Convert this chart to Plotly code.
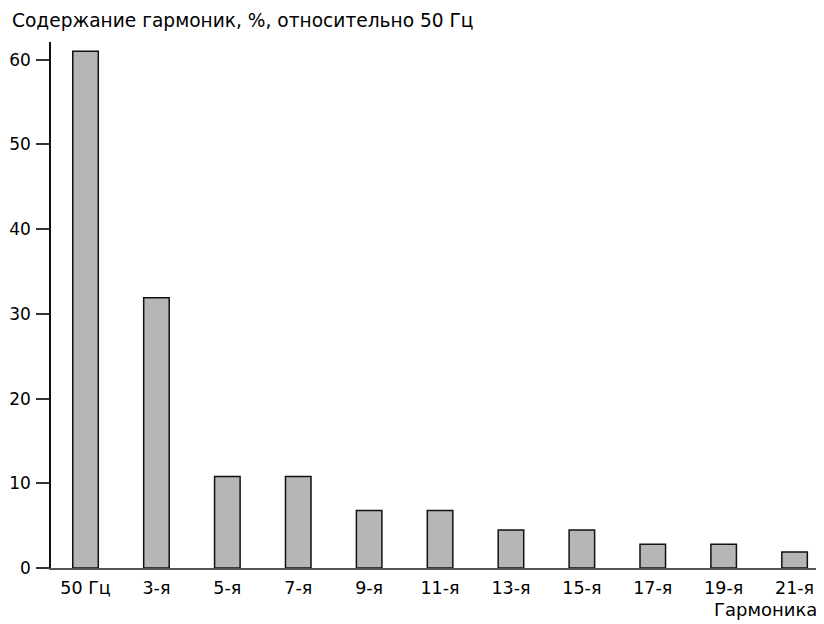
import plotly.graph_objects as go

categories = ["50 Гц", "3-я", "5-я", "7-я", "9-я", "11-я", "13-я", "15-я", "17-я", "19-я", "21-я"]
values = [61.0, 31.9, 10.8, 10.8, 6.8, 6.8, 4.5, 4.5, 2.8, 2.8, 1.9]
y_ticks = [0, 10, 20, 30, 40, 50, 60]
title_text = "Содержание гармоник, %, относительно 50 Гц"
x_title = "Гармоника"

# page has an 8px body margin; figure is placed at (8, 8)
OFF = 8
W, H = 824 - OFF, 624 - OFF
L, R, T, B = 51 - OFF, 0, 42 - OFF, 56
pw = W - L - R

FONT = "DejaVu Sans, Verdana, sans-serif"

fig = go.Figure(go.Bar(
    x=categories, y=values,
    width=0.36,
    marker=dict(color="#b6b6b6", line=dict(color="#111111", width=1.5)),
))

fig.update_layout(
    width=W, height=H,
    margin=dict(l=L, r=R, t=T, b=B, autoexpand=False),
    paper_bgcolor="white", plot_bgcolor="white",
    showlegend=False,
    font=dict(family=FONT, size=17, color="#000000"),
    xaxis=dict(
        type="category", range=[-0.487, 10.415],
        showline=True, linecolor="#555555", linewidth=2,
        showgrid=False, ticks="", zeroline=False,
        tickfont=dict(size=17.5), ticklabelstandoff=3,
    ),
    yaxis=dict(
        range=[0, 62.1], tickvals=y_ticks,
        showline=True, linecolor="#111111", linewidth=1.5,
        ticks="outside", ticklen=13, tickwidth=1.5, tickcolor="#333333",
        showgrid=False, zeroline=False,
        tickfont=dict(size=17), ticklabelstandoff=2,
    ),
    annotations=[
        dict(text=title_text, xref="paper", yref="paper",
             x=(10 - L - OFF) / pw, y=1, yshift=9, xanchor="left", yanchor="bottom",
             showarrow=False, font=dict(size=18.6, color="#000000")),
        dict(text=x_title, xref="paper", yref="paper",
             x=(819 - L - OFF) / pw, y=0, yshift=-29, xanchor="right", yanchor="top",
             showarrow=False, font=dict(size=18, color="#000000")),
    ],
)

fig.write_html("out.html")
